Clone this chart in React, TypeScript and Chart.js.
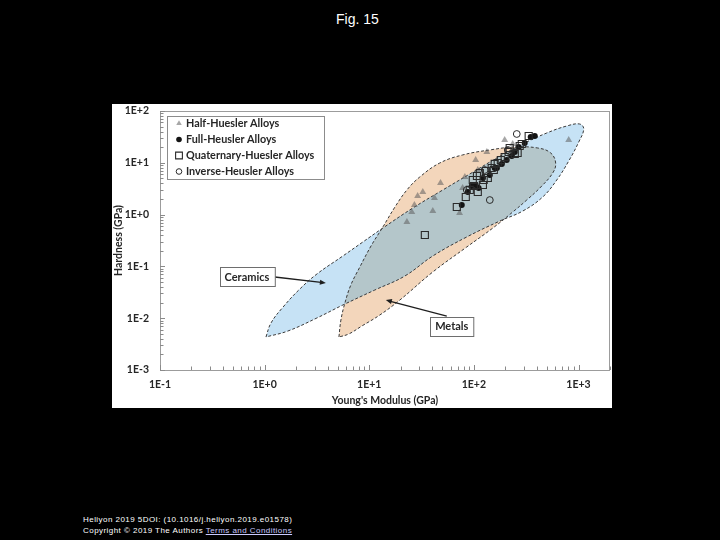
import React, { useEffect, useRef } from 'react';
import { Chart, registerables } from 'chart.js';

Chart.register(...registerables);

// ---------- axes ----------
const X_MIN = 0.1;
const X_MAX = 2000;
const Y_MIN = 0.001;
const Y_MAX = 100;
const xTickValues = [0.1, 1, 10, 100, 1000];
const xTickLabels = ['1E-1', '1E+0', '1E+1', '1E+2', '1E+3'];
const yTickValues = [0.001, 0.01, 0.1, 1, 10, 100];
const yTickLabels = ['1E-3', '1E-2', '1E-1', '1E+0', '1E+1', '1E+2'];
const xTitle = "Young's Modulus (GPa)";
const yTitle = 'Hardness (GPa)';

// ---------- material regions (outline vertices, GPa) ----------
const ceramicsX = [1.03, 1.15, 1.5, 2.17, 3.16, 5.6, 8.69, 13.5, 26.1, 50.5, 91.4, 166, 293, 497, 771, 1026, 1122, 1005, 806, 620, 455, 293, 177, 85.5, 40.5, 21.9, 11.3, 5.6, 3.16, 1.67, 1.03];
const ceramicsY = [0.00434, 0.00807, 0.0164, 0.0366, 0.0713, 0.159, 0.296, 0.551, 1.34, 2.99, 6.08, 12.4, 23.1, 37.6, 51.3, 56.1, 45.0, 25.2, 10.8, 4.66, 2.19, 1.17, 0.752, 0.37, 0.159, 0.0653, 0.035, 0.018, 0.0101, 0.00566, 0.00434];
const metalsX = [5.13, 5.36, 5.85, 6.67, 8.13, 10.4, 13.5, 17.6, 22.9, 30.4, 47.2, 78.3, 142, 246, 408, 542, 605, 567, 436, 320, 235, 152, 85.5, 40.5, 19.6, 12.6, 8.49, 6.38, 5.13];
const metalsY = [0.00434, 0.00923, 0.0196, 0.0438, 0.0973, 0.248, 0.577, 1.4, 2.99, 5.32, 9.91, 14.2, 17.7, 20.2, 19.3, 15.5, 9.91, 6.35, 3.41, 1.91, 1.12, 0.551, 0.237, 0.078, 0.0224, 0.0115, 0.00706, 0.00496, 0.00434];

// ---------- alloy series (Young's modulus GPa, hardness GPa) ----------
const seriesLabels = ['Half-Huesler Alloys', 'Full-Heusler Alloys', 'Quaternary-Huesler Alloys', 'Inverse-Heusler Alloys'];
const halfX = [197, 235, 133, 104, 82, 78, 48, 32.5, 29, 42, 27, 25.5, 40.5, 73, 22.9, 806, 109];
const halfY = [27.5, 23.1, 16.2, 11.3, 5.3, 3.27, 4.07, 2.73, 2.28, 2.09, 1.53, 1.12, 1.17, 1.07, 0.72, 27.5, 7.26];
const fullX = [382, 349, 268, 230, 185, 142, 122, 111, 95.5, 87.5, 76.6, 166, 206, 306, 104, 158, 246];
const fullY = [32.9, 31.5, 20.2, 13.5, 9.5, 5.8, 5.09, 3.27, 3.57, 2.73, 1.53, 7.94, 11.3, 24.1, 3.73, 7.94, 16.2];
const quatX = [334, 220, 287, 262, 197, 169, 148, 136, 114, 122, 97.6, 91.4, 109, 68.7, 34, 158, 246, 107, 130, 181, 215, 83.7, 99.8, 274, 155, 124];
const quatY = [32.9, 19.3, 23.1, 15.5, 12.9, 9.9, 7.94, 5.09, 6.35, 3.73, 4.66, 2.99, 2.73, 1.4, 0.404, 9.5, 14.8, 5.56, 6.95, 11.3, 16.2, 2.19, 3.57, 21.1, 7.26, 4.66];
const invX = [257, 142, 85.5, 127, 211];
const invY = [36.0, 1.91, 2.99, 7.26, 17.7];

// ---------- callouts ----------
const calloutLabels = ['Ceramics', 'Metals'];
const calloutX = [0.678, 61.5];
const calloutY = [0.0638, 0.00706];
const calloutTailX = [1.25, 55.1];
const calloutTailY = [0.0624, 0.011];
const calloutTipX = [3.85, 14.4];
const calloutTipY = [0.0479, 0.0224];

const FONT = 'Lato, "Open Sans", sans-serif';
const TAN = '#f3d6bb';
const BLUE = '#c6e2f5';
const OVERLAP = '#b4c6ca';

const pts = (xs: number[], ys: number[]) => xs.map((x, i) => ({ x, y: ys[i] }));

function linePath(ctx: any, meta: any) {
  const line = meta.dataset;
  ctx.beginPath();
  if (line && typeof line.path === 'function') {
    line.path(ctx);
  } else {
    meta.data.forEach((p: any, i: number) => (i ? ctx.lineTo(p.x, p.y) : ctx.moveTo(p.x, p.y)));
  }
  ctx.closePath();
}

const regionPlugin = {
  id: 'regionFills',
  beforeDatasetsDraw(chart: any) {
    const ctx = chart.ctx;
    const a = chart.chartArea;
    const cer = chart.getDatasetMeta(0);
    const met = chart.getDatasetMeta(1);
    [cer, met].forEach((m: any) => {
      if (m.dataset && typeof m.dataset.updateControlPoints === 'function') m.dataset.updateControlPoints(a, 'x');
    });
    ctx.save();
    ctx.beginPath();
    ctx.rect(a.left, a.top, a.right - a.left, a.bottom - a.top);
    ctx.clip();
    linePath(ctx, met);
    ctx.fillStyle = TAN;
    ctx.fill();
    linePath(ctx, cer);
    ctx.fillStyle = BLUE;
    ctx.fill();
    linePath(ctx, cer);
    ctx.clip();
    linePath(ctx, met);
    ctx.fillStyle = OVERLAP;
    ctx.fill();
    ctx.restore();
  },
};

function drawMarker(ctx: any, style: string, x: number, y: number, r: number, fill: string, stroke: string, bw: number) {
  ctx.beginPath();
  if (style === 'triangle') {
    ctx.moveTo(x, y - r);
    ctx.lineTo(x + r * 0.866, y + r * 0.5);
    ctx.lineTo(x - r * 0.866, y + r * 0.5);
    ctx.closePath();
  } else if (style === 'rect') {
    const s = r * Math.SQRT1_2;
    ctx.rect(x - s, y - s, 2 * s, 2 * s);
  } else {
    ctx.arc(x, y, r, 0, Math.PI * 2);
  }
  ctx.fillStyle = fill;
  ctx.fill();
  if (bw > 0) {
    ctx.lineWidth = bw;
    ctx.strokeStyle = stroke;
    ctx.stroke();
  }
}

const decorPlugin = {
  id: 'decor',
  afterDatasetsDraw(chart: any) {
    const { ctx, chartArea: a, scales } = chart;
    const xs = scales.x;
    const ys = scales.y;
    ctx.save();
    // frame
    ctx.strokeStyle = '#9c9c9c';
    ctx.lineWidth = 1;
    ctx.strokeRect(Math.round(a.left) + 0.5, Math.round(a.top) + 0.5, Math.round(a.right - a.left) - 1, Math.round(a.bottom - a.top));
    // inward log ticks
    ctx.strokeStyle = '#8a8a8a';
    ctx.beginPath();
    for (let d = -1; d <= 3; d++) {
      for (let m = 1; m <= 9; m++) {
        const v = m * Math.pow(10, d);
        if (v > X_MAX) break;
        const px = Math.round(xs.getPixelForValue(v)) + 0.5;
        const len = m === 1 ? 5 : 3.5;
        ctx.moveTo(px, a.bottom);
        ctx.lineTo(px, a.bottom - len);
      }
    }
    for (let d = -3; d <= 2; d++) {
      for (let m = 1; m <= 9; m++) {
        const v = m * Math.pow(10, d);
        if (v > Y_MAX) break;
        const py = Math.round(ys.getPixelForValue(v)) + 0.5;
        const len = m === 1 ? 5 : 3.5;
        ctx.moveTo(a.left, py);
        ctx.lineTo(a.left + len, py);
      }
    }
    ctx.stroke();

    // callouts
    ctx.font = `bold 11px ${FONT}`;
    calloutLabels.forEach((t, i) => {
      const cx = xs.getPixelForValue(calloutX[i]);
      const cy = ys.getPixelForValue(calloutY[i]);
      const tw = ctx.measureText(t).width;
      const bw = tw + 10;
      const bh = 19;
      const tx = xs.getPixelForValue(calloutTailX[i]);
      const ty = ys.getPixelForValue(calloutTailY[i]);
      const hx = xs.getPixelForValue(calloutTipX[i]);
      const hy = ys.getPixelForValue(calloutTipY[i]);
      // arrow
      ctx.strokeStyle = '#1e1e1e';
      ctx.fillStyle = '#1e1e1e';
      ctx.lineWidth = 1.3;
      const ang = Math.atan2(hy - ty, hx - tx);
      const hl = 6;
      const hw = 2.6;
      ctx.beginPath();
      ctx.moveTo(tx, ty);
      ctx.lineTo(hx - Math.cos(ang) * hl * 0.8, hy - Math.sin(ang) * hl * 0.8);
      ctx.stroke();
      ctx.beginPath();
      ctx.moveTo(hx, hy);
      ctx.lineTo(hx - Math.cos(ang) * hl - Math.sin(ang) * hw, hy - Math.sin(ang) * hl + Math.cos(ang) * hw);
      ctx.lineTo(hx - Math.cos(ang) * hl + Math.sin(ang) * hw, hy - Math.sin(ang) * hl - Math.cos(ang) * hw);
      ctx.closePath();
      ctx.fill();
      // box
      const bx = Math.round(cx - bw / 2) + 0.5;
      const by = Math.round(cy - bh / 2) + 0.5;
      ctx.fillStyle = '#ffffff';
      ctx.fillRect(bx, by, bw, bh);
      ctx.strokeStyle = '#6e6e6e';
      ctx.lineWidth = 1;
      ctx.strokeRect(bx, by, bw, bh);
      ctx.fillStyle = '#262626';
      ctx.textAlign = 'center';
      ctx.textBaseline = 'middle';
      ctx.fillText(t, cx, cy + 0.5);
    });

    // legend box
    const x0 = Math.round(a.left) + 7;
    const y0 = Math.round(a.top) + 5;
    const w = 157;
    const h = 63;
    ctx.fillStyle = '#ffffff';
    ctx.fillRect(x0, y0, w, h);
    ctx.strokeStyle = '#8c8c8c';
    ctx.lineWidth = 1;
    ctx.strokeRect(x0 + 0.5, y0 + 0.5, w, h);
    const items = chart.data.datasets.filter((d: any) => d.inLegend);
    ctx.font = `bold 10.8px ${FONT}`;
    ctx.textAlign = 'left';
    ctx.textBaseline = 'middle';
    items.forEach((d: any, i: number) => {
      const cy = y0 + 7.5 + i * 16;
      drawMarker(ctx, d.pointStyle, x0 + 12, cy, d.legendRadius, d.backgroundColor, d.borderColor, d.borderWidth);
      ctx.fillStyle = '#262626';
      ctx.fillText(d.label, x0 + 19, cy + 0.5);
    });
    ctx.restore();
  },
};

export default function App() {
  const ref = useRef<HTMLCanvasElement>(null);

  useEffect(() => {
    const canvas = ref.current;
    if (!canvas) return;
    const tickFont = { family: FONT, size: 10.5, weight: 'bold' as const };
    const titleFont = { family: FONT, size: 10.5, weight: 'bold' as const };
    const chart = new Chart(canvas, {
      type: 'scatter',
      data: {
        datasets: [
          {
            type: 'line',
            label: 'Ceramics',
            data: pts(ceramicsX, ceramicsY),
            borderColor: '#3a3a3a',
            borderWidth: 1,
            borderDash: [3, 2],
            pointRadius: 0,
            tension: 0.4,
            fill: false,
            order: 10,
          } as any,
          {
            type: 'line',
            label: 'Metals',
            data: pts(metalsX, metalsY),
            borderColor: '#3a3a3a',
            borderWidth: 1,
            borderDash: [3, 2],
            pointRadius: 0,
            tension: 0.4,
            fill: false,
            order: 9,
          } as any,
          {
            label: seriesLabels[0],
            data: pts(halfX, halfY),
            pointStyle: 'triangle',
            pointRadius: 4,
            backgroundColor: 'rgba(95,95,95,0.55)',
            borderColor: 'rgba(95,95,95,0.55)',
            borderWidth: 0,
            order: 4,
            inLegend: true,
            legendRadius: 3.2,
          } as any,
          {
            label: seriesLabels[1],
            data: pts(fullX, fullY),
            pointStyle: 'circle',
            pointRadius: 3,
            backgroundColor: '#141414',
            borderColor: '#141414',
            borderWidth: 0,
            order: 3,
            inLegend: true,
            legendRadius: 2.8,
          } as any,
          {
            label: seriesLabels[2],
            data: pts(quatX, quatY),
            pointStyle: 'rect',
            pointRadius: 5,
            backgroundColor: 'rgba(0,0,0,0)',
            borderColor: '#2a2a2a',
            borderWidth: 1.1,
            order: 2,
            inLegend: true,
            legendRadius: 4.8,
          } as any,
          {
            label: seriesLabels[3],
            data: pts(invX, invY),
            pointStyle: 'circle',
            pointRadius: 3.4,
            backgroundColor: 'rgba(0,0,0,0)',
            borderColor: '#2a2a2a',
            borderWidth: 1,
            order: 1,
            inLegend: true,
            legendRadius: 2.8,
          } as any,
        ],
      },
      options: {
        animation: false,
        responsive: false,
        events: [],
        layout: { autoPadding: false, padding: { top: 7, right: 2, left: 0, bottom: 0 } },
        plugins: {
          legend: { display: false },
          tooltip: { enabled: false },
        },
        scales: {
          x: {
            type: 'logarithmic',
            position: 'bottom',
            min: X_MIN,
            max: X_MAX,
            afterBuildTicks: (s: any) => {
              s.ticks = xTickValues.map((v) => ({ value: v }));
            },
            afterFit: (s: any) => {
              s.height = 38;
              s.paddingLeft = 0;
              s.paddingRight = 0;
            },
            grid: { display: false, drawTicks: false },
            border: { display: false },
            ticks: {
              autoSkip: false,
              maxRotation: 0,
              padding: 8,
              color: '#262626',
              font: tickFont,
              callback: (_v: any, i: number) => xTickLabels[i],
            },
            title: { display: true, text: xTitle, color: '#262626', font: titleFont, padding: { top: 0, bottom: 1 } },
          },
          y: {
            type: 'logarithmic',
            min: Y_MIN,
            max: Y_MAX,
            afterBuildTicks: (s: any) => {
              s.ticks = yTickValues.map((v) => ({ value: v }));
            },
            afterFit: (s: any) => {
              s.width = 48;
              s.paddingTop = 0;
              s.paddingBottom = 0;
            },
            grid: { display: false, drawTicks: false },
            border: { display: false },
            ticks: {
              autoSkip: false,
              padding: 11,
              color: '#262626',
              font: tickFont,
              callback: (_v: any, i: number) => yTickLabels[i],
            },
            title: { display: true, text: yTitle, color: '#262626', font: titleFont, padding: { top: 0, bottom: 0 } },
          },
        },
      } as any,
      plugins: [regionPlugin, decorPlugin],
    });
    return () => chart.destroy();
  }, []);

  return (
    <div
      style={{
        position: 'fixed',
        left: 0,
        top: 0,
        width: 720,
        height: 540,
        background: '#000',
        overflow: 'hidden',
        fontFamily: '"Liberation Sans", Arial, sans-serif',
      }}
    >
      <div style={{ position: 'absolute', left: 336, top: 10, color: '#fff', fontSize: 14, lineHeight: '18px', whiteSpace: 'nowrap' }}>
        Fig. 15
      </div>
      <div style={{ position: 'absolute', left: 112, top: 104, width: 500, height: 304, background: '#fff' }}>
        <canvas ref={ref} width={500} height={304} style={{ display: 'block', width: 500, height: 304 }} />
      </div>
      <div
        style={{
          position: 'absolute',
          left: 83,
          top: 514,
          color: '#fff',
          fontSize: 8,
          lineHeight: '11px',
          letterSpacing: 0.45,
          whiteSpace: 'nowrap',
        }}
      >
        Heliyon 2019 5DOI: (10.1016/j.heliyon.2019.e01578)
        <br />
        Copyright © 2019 The Authors <span style={{ color: '#c9c9ff', textDecoration: 'underline' }}>Terms and Conditions</span>
      </div>
    </div>
  );
}
